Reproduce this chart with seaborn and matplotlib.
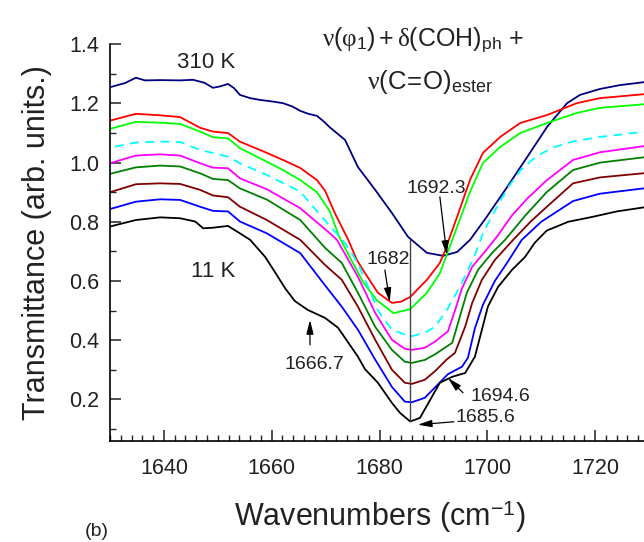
import numpy as np
import pandas as pd
import matplotlib
matplotlib.use("Agg")
import matplotlib.pyplot as plt
from matplotlib.ticker import MultipleLocator, FormatStrFormatter
import seaborn as sns

# ---------------- data ----------------
navy_x = [1630, 1632.8, 1634.8, 1636.5, 1639.3, 1643.0, 1645.4, 1647.5, 1649.1, 1650.5, 1651.9, 1653.0,
          1654.1, 1656.0, 1657.8, 1660.0, 1662.1, 1663.8, 1665.3, 1666.8, 1668.4, 1669.6, 1670.8, 1673.6,
          1676.0, 1679.2, 1682.3, 1685.3, 1688.8, 1691.8, 1694.4, 1696.8, 1699.9, 1703.7, 1707.4, 1711.1,
          1714.8, 1717.2, 1720.9, 1724.6, 1729.5]
navy_y = [1.255, 1.269, 1.287, 1.278, 1.279, 1.278, 1.280, 1.270, 1.253, 1.258, 1.266, 1.252,
          1.229, 1.218, 1.212, 1.207, 1.201, 1.190, 1.175, 1.165, 1.158, 1.140, 1.119, 1.077,
          0.985, 0.908, 0.830, 0.749, 0.695, 0.685, 0.698, 0.739, 0.817, 0.918, 1.019, 1.121,
          1.201, 1.229, 1.249, 1.262, 1.273]

red_x = [1630, 1634.8, 1639.3, 1643.0, 1646.7, 1649.1, 1651.9, 1654.1, 1659.1, 1662.1, 1665.3, 1668.4,
         1669.9, 1671.7, 1674.2, 1675.8, 1677.3, 1679.7, 1682.3, 1684.0, 1685.7, 1688.8, 1691.2, 1692.1,
         1694.4, 1696.8, 1699.2, 1702.4, 1706.1, 1711.1, 1716.6, 1720.9, 1729.5]
red_y = [1.142, 1.165, 1.160, 1.154, 1.118, 1.105, 1.100, 1.071, 1.033, 1.009, 0.982, 0.941,
         0.905, 0.830, 0.739, 0.671, 0.627, 0.560, 0.526, 0.530, 0.546, 0.604, 0.661, 0.700,
         0.817, 0.942, 1.033, 1.087, 1.134, 1.161, 1.201, 1.218, 1.232]

green_x = [1630, 1634.8, 1639.3, 1643.0, 1646.7, 1649.1, 1651.9, 1654.1, 1659.1, 1662.1, 1665.3, 1668.4,
           1670.8, 1672.5, 1674.5, 1677.0, 1679.5, 1682.6, 1685.7, 1688.8, 1691.2, 1692.5, 1694.4,
           1696.8, 1699.2, 1702.4, 1706.1, 1711.1, 1716.6, 1720.9, 1729.5]
green_y = [1.114, 1.138, 1.135, 1.131, 1.105, 1.086, 1.082, 1.049, 1.003, 0.975, 0.941, 0.900,
           0.835, 0.750, 0.680, 0.595, 0.535, 0.491, 0.505, 0.560, 0.626, 0.690, 0.783,
           0.901, 0.999, 1.053, 1.100, 1.134, 1.168, 1.185, 1.198]

cyan_x = [1630.9, 1634.8, 1639.3, 1643.0, 1646.7, 1651.9, 1654.1, 1659.1, 1665.3, 1669.0, 1673.6, 1676.0,
          1677.9, 1679.7, 1682.3, 1685.7, 1688.4, 1690.3, 1692.5, 1694.9, 1697.3, 1699.4, 1701.8, 1704.0,
          1706.2, 1709.0, 1712.0, 1716.0, 1720.9, 1729.5]
cyan_y = [1.054, 1.068, 1.071, 1.070, 1.043, 1.020, 0.998, 0.958, 0.902, 0.823, 0.728, 0.660,
          0.580, 0.500, 0.435, 0.412, 0.425, 0.445, 0.502, 0.580, 0.671, 0.770, 0.850, 0.920,
          0.975, 1.020, 1.050, 1.072, 1.087, 1.105]

magenta_x = [1630, 1634.8, 1639.3, 1643.0, 1646.7, 1649.1, 1651.9, 1654.1, 1659.1, 1665.3, 1670.8, 1672.1,
             1676.0, 1679.2, 1682.3, 1684.7, 1686.0, 1688.4, 1690.3, 1692.7, 1694.0, 1695.3, 1697.2,
             1699.6, 1701.8, 1704.5, 1707.5, 1711.0, 1715.9, 1720.9, 1729.5]
magenta_y = [0.998, 1.024, 1.028, 1.024, 0.998, 0.983, 0.981, 0.947, 0.910, 0.846, 0.761, 0.739,
             0.614, 0.492, 0.401, 0.371, 0.367, 0.374, 0.395, 0.430, 0.500, 0.575, 0.648,
             0.700, 0.750, 0.820, 0.880, 0.940, 1.009, 1.035, 1.057]

dkgreen_x = [1630, 1634.8, 1639.3, 1643.0, 1646.7, 1649.1, 1651.9, 1654.1, 1659.1, 1665.3, 1669.9, 1673.0,
             1676.0, 1679.2, 1682.3, 1684.7, 1686.0, 1688.4, 1690.3, 1693.5, 1694.9, 1696.2, 1698.3,
             1700.9, 1703.3, 1707.0, 1711.0, 1715.9, 1720.9, 1729.5]
dkgreen_y = [0.962, 0.984, 0.990, 0.987, 0.964, 0.945, 0.941, 0.913, 0.875, 0.806, 0.712, 0.661,
             0.560, 0.445, 0.367, 0.327, 0.323, 0.333, 0.352, 0.391, 0.479, 0.560, 0.638,
             0.695, 0.739, 0.820, 0.900, 0.975, 1.000, 1.019]

maroon_x = [1630, 1634.8, 1639.3, 1643.0, 1646.7, 1649.1, 1651.9, 1654.1, 1659.1, 1665.3, 1669.9, 1673.0,
            1676.0, 1679.2, 1682.3, 1684.7, 1686.0, 1688.4, 1690.3, 1692.5, 1694.0, 1695.9, 1697.2,
            1699.0, 1701.4, 1704.8, 1708.0, 1711.0, 1715.9, 1720.9, 1729.5]
maroon_y = [0.900, 0.927, 0.930, 0.928, 0.908, 0.889, 0.883, 0.851, 0.806, 0.739, 0.654, 0.604,
            0.513, 0.401, 0.300, 0.256, 0.252, 0.266, 0.295, 0.335, 0.357, 0.446, 0.526,
            0.604, 0.671, 0.739, 0.800, 0.850, 0.930, 0.950, 0.965]

blue_x = [1630, 1634.8, 1639.3, 1643.0, 1646.7, 1649.1, 1651.9, 1654.1, 1659.1, 1665.3, 1669.9, 1673.0,
          1676.0, 1679.2, 1682.3, 1684.7, 1686.0, 1688.4, 1690.3, 1692.7, 1695.3, 1696.4, 1697.7,
          1699.2, 1701.4, 1703.8, 1706.4, 1710.0, 1715.9, 1720.9, 1729.5]
blue_y = [0.843, 0.868, 0.876, 0.874, 0.851, 0.837, 0.835, 0.801, 0.761, 0.694, 0.585, 0.513,
          0.435, 0.334, 0.242, 0.192, 0.190, 0.205, 0.240, 0.285, 0.310, 0.340, 0.440,
          0.520, 0.600, 0.665, 0.739, 0.800, 0.870, 0.895, 0.914]

black_x = [1630, 1634.8, 1639.3, 1643.0, 1645.8, 1647.3, 1649.1, 1651.9, 1654.1, 1656.0, 1658.8, 1660.6,
           1662.5, 1664.3, 1666.7, 1669.9, 1672.3, 1676.0, 1677.3, 1679.7, 1682.3, 1683.8, 1685.7,
           1687.5, 1689.4, 1691.2, 1693.5, 1695.9, 1697.7, 1699.0, 1700.1, 1702.0, 1704.6, 1707.0,
           1708.8, 1711.0, 1715.0, 1719.6, 1724.0, 1729.5]
black_y = [0.784, 0.806, 0.815, 0.812, 0.801, 0.778, 0.780, 0.786, 0.761, 0.739, 0.681, 0.630,
           0.575, 0.532, 0.502, 0.475, 0.442, 0.344, 0.302, 0.256, 0.188, 0.154, 0.125,
           0.137, 0.198, 0.256, 0.276, 0.289, 0.344, 0.435, 0.513, 0.580, 0.638, 0.681,
           0.729, 0.770, 0.800, 0.817, 0.835, 0.850]

series = [
    ("310 K", navy_x, navy_y, "#000080", "-"),
    ("T2", red_x, red_y, "#ff0000", "-"),
    ("T3", green_x, green_y, "#00ff00", "-"),
    ("T4", cyan_x, cyan_y, "#00ffff", "--"),
    ("T5", magenta_x, magenta_y, "#ff00ff", "-"),
    ("T6", dkgreen_x, dkgreen_y, "#008000", "-"),
    ("T7", maroon_x, maroon_y, "#800000", "-"),
    ("T8", blue_x, blue_y, "#0000ff", "-"),
    ("11 K", black_x, black_y, "#000000", "-"),
]

# annotation values
peak_labels = ["1692.3", "1682", "1666.7", "1694.6", "1685.6"]
vline_x = 1685.6

# ---------------- style ----------------
sns.set_theme(style="ticks")
plt.rcParams["font.family"] = ["Liberation Sans", "DejaVu Sans"]
plt.rcParams["mathtext.fontset"] = "custom"
plt.rcParams["mathtext.rm"] = "Liberation Sans"
plt.rcParams["mathtext.it"] = "Liberation Serif"
plt.rcParams["mathtext.bf"] = "Liberation Sans:bold"

fig = plt.figure(figsize=(6.44, 5.42), dpi=100)
ax = fig.add_axes([110 / 644, 101 / 542, 539 / 644, 396.7 / 542])

for name, xs, ys, col, ls in series:
    df = pd.DataFrame({"x": xs, "y": ys})
    sns.lineplot(data=df, x="x", y="y", ax=ax, color=col, lw=1.3,
                 estimator=None, sort=False)
    ln = ax.get_lines()[-1]
    ln.set_solid_joinstyle("round")
    ln.set_dash_joinstyle("round")
    if ls == "--":
        ln.set_dashes([5, 3.5])

ax.set_xlim(1630, 1730)
ax.set_ylim(0.059, 1.4)

ax.xaxis.set_major_locator(MultipleLocator(20))
ax.xaxis.set_minor_locator(MultipleLocator(2))
ax.yaxis.set_major_locator(MultipleLocator(0.2))
ax.yaxis.set_minor_locator(MultipleLocator(0.1))
ax.tick_params(which="major", direction="in", length=8, width=1.1, labelsize=15.5,
               colors="#222222", pad=8)
ax.tick_params(which="minor", direction="in", length=4.5, width=1.0)
ax.tick_params(axis="x", pad=12)
ax.yaxis.set_major_formatter(FormatStrFormatter("%.1f"))

for s in ["top", "right"]:
    ax.spines[s].set_visible(False)
for s in ["left", "bottom"]:
    ax.spines[s].set_linewidth(1.2)
    ax.spines[s].set_color("black")

ax.set_xlabel(r"Wavenumbers (cm$^{\mathregular{-1}}$)", fontsize=22, color="#222222", labelpad=14)
ax.set_ylabel("Transmittance (arb. units.)", fontsize=22, color="#222222", labelpad=12)

# labels
ax.text(1647.8, 1.340, "310 K", fontsize=16, ha="center", va="center", color="#222222")
ax.text(1649.1, 0.631, "11 K", fontsize=16, ha="center", va="center", color="#222222")
ax.text(1688.0, 1.412, r"$\nu(\varphi_{1}) + \delta(\mathrm{COH})_{\mathrm{ph}}$ +", fontsize=18,
        ha="center", va="center", color="#222222", clip_on=False)
ax.text(1689.4, 1.272, r"$\nu(\mathrm{C\!=\!O})_{\mathrm{ester}}$", fontsize=18.5,
        ha="center", va="center", color="#222222")

# vertical marker line
ax.plot([vline_x, vline_x], [0.125, 0.739], color="#444444", lw=1.0)

arrow = dict(arrowstyle="-|>,head_length=0.7,head_width=0.18", color="black", lw=0.9,
             shrinkA=0, shrinkB=0)
ax.text(1690.5, 0.914, peak_labels[0], fontsize=14, ha="center", va="center", color="#222222")
ax.annotate("", xy=(1692.5, 0.688), xytext=(1691.2, 0.884), arrowprops=arrow)
ax.text(1681.6, 0.671, peak_labels[1], fontsize=14, ha="center", va="center", color="#222222")
ax.annotate("", xy=(1681.9, 0.529), xytext=(1681.0, 0.637), arrowprops=arrow)
ax.text(1668.0, 0.316, peak_labels[2], fontsize=14, ha="center", va="center", color="#222222")
ax.annotate("", xy=(1667.1, 0.468), xytext=(1667.1, 0.384), arrowprops=arrow)
ax.text(1702.4, 0.209, peak_labels[3], fontsize=14, ha="center", va="center", color="#222222")
ax.annotate("", xy=(1692.7, 0.272), xytext=(1695.5, 0.222), arrowprops=arrow)
ax.text(1699.6, 0.138, peak_labels[4], fontsize=14, ha="center", va="center", color="#222222")
ax.annotate("", xy=(1687.1, 0.114), xytext=(1693.8, 0.124), arrowprops=arrow)

fig.text(97 / 644, 1 - 531 / 542, "(b)", fontsize=14, ha="center", va="center", color="#222222")

fig.savefig("out.png", dpi=100)
